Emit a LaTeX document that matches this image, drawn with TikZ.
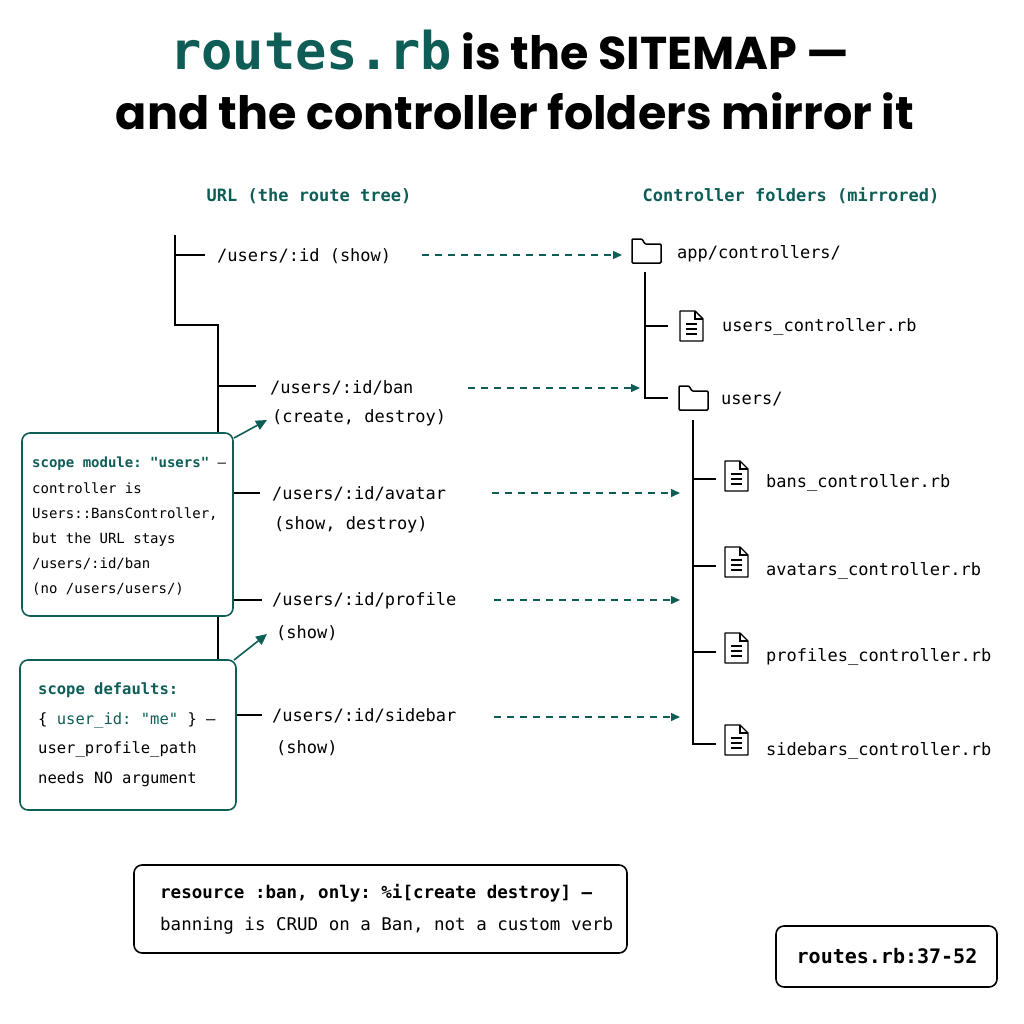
\documentclass[tikz,border=0pt]{standalone}
\usepackage{fontspec}
\setmainfont{Poppins}
\setmonofont{DejaVu Sans Mono}
\usetikzlibrary{arrows.meta}
\definecolor{teal1}{HTML}{0E5E57}
\newcommand\myfolder[2]{\draw[line width=1.5pt,rounded corners=1pt,shift={(#1,#2)}] (0,0)--(0,24)--(29,24)--(29,5)--(13,5)--(10,0)--cycle;}
\newcommand\myfile[2]{\begin{scope}[shift={(#1,#2)}]\draw[line width=1.4pt,line join=round] (0,0)--(15,0)--(23,8)--(23,30)--(0,30)--cycle; \draw[line width=1.4pt] (15,0)--(15,8)--(23,8); \draw[line width=1.2pt] (6,13)--(17,13) (6,18)--(17,18) (6,23)--(17,23);\end{scope}}
\tikzset{
  lbl/.style={anchor=west,inner sep=0pt,font=\fontsize{17}{20}\selectfont\ttfamily},
  hdr/.style={inner sep=0pt,font=\fontsize{17}{20}\selectfont\ttfamily\bfseries,text=teal1},
  tree/.style={line width=1.6pt,black},
  dasharr/.style={teal1,line width=1.4pt,dash pattern=on 7pt off 6pt,-{Triangle[length=9pt,width=8pt]}},
  notearr/.style={teal1,line width=1.6pt,-{Triangle[length=11pt,width=10pt]}},
  plainbox/.style={draw=black,line width=1.6pt,rounded corners=8pt,fill=white},
}
\begin{document}
\begin{tikzpicture}[x=1pt,y=-1pt]
\useasboundingbox (0,0) rectangle (1024,1024);
% title
\node[inner sep=0pt] (t1) at (510,50) {\fontsize{46}{50}\selectfont\bfseries{\ttfamily\fontsize{52}{56}\selectfont\color{teal1}routes.rb} is the SITEMAP —};
\node[inner sep=0pt] (t2) at (515,111) {\fontsize{46}{50}\selectfont\bfseries and the controller folders mirror it};
% headers
\node[hdr] (h1) at (309,196) {URL (the route tree)};
\node[hdr] (h2) at (791,196) {Controller folders (mirrored)};
% left tree
\draw[tree] (175,235)--(175,325)--(218,325)--(218,660);
\draw[tree] (175,255)--(205,255);
\draw[tree] (218,386)--(256,386);
\draw[tree] (218,493)--(260,493);
\draw[tree] (218,600)--(262,600);
\draw[tree] (218,715)--(262,715);
\node[lbl] (r0) at (217,256) {/users/:id (show)};
\node[lbl] (r1) at (270,388) {/users/:id/ban};
\node[lbl] (r1b) at (272,418) {(create, destroy)};
\node[lbl] (r2) at (272,494) {/users/:id/avatar};
\node[lbl] (r2b) at (274,525) {(show, destroy)};
\node[lbl] (r3) at (272,601) {/users/:id/profile};
\node[lbl] (r3b) at (276,633) {(show)};
\node[lbl] (r4) at (272,716) {/users/:id/sidebar};
\node[lbl] (r4b) at (276,748) {(show)};
% right tree
\myfolder{632}{239}
\node[lbl] (f0) at (677,254) {app/controllers/};
\draw[tree] (645,272)--(645,398)--(668,398);
\draw[tree] (645,326)--(668,326);
\myfile{680}{311}
\node[lbl] (f1) at (722,327) {users\_controller.rb};
\myfolder{679}{386}
\node[lbl] (f2) at (721,399) {users/};
\draw[tree] (693,420)--(693,744)--(716,744);
\draw[tree] (693,479)--(716,479);
\draw[tree] (693,566)--(716,566);
\draw[tree] (693,652)--(716,652);
\myfile{725}{461}
\node[lbl] (f3) at (766,483) {bans\_controller.rb};
\myfile{725}{547}
\node[lbl] (f4) at (766,571) {avatars\_controller.rb};
\myfile{725}{633}
\node[lbl] (f5) at (766,657) {profiles\_controller.rb};
\myfile{725}{725}
\node[lbl] (f6) at (766,751) {sidebars\_controller.rb};
\coordinate (a0) at (622,255); \coordinate (a1) at (640,388);
\coordinate (a2) at (680,493); \coordinate (a3) at (680,600); \coordinate (a4) at (680,717);
\draw[dasharr] (422,255)--(a0);
\draw[dasharr] (468,388)--(a1);
\draw[dasharr] (492,493)--(a2);
\draw[dasharr] (494,600)--(a3);
\draw[dasharr] (494,717)--(a4);
% note boxes
\draw[plainbox,draw=teal1] (22,433) rectangle (233,616);
\node[anchor=north west,inner sep=0pt,align=left,font=\fontsize{14}{25.2}\selectfont\ttfamily] (n1) at (32,457) {{\color{teal1}\bfseries scope module: "users"} —\\controller is\\Users::BansController,\\but the URL stays\\/users/:id/ban\\(no /users/users/)};
\coordinate (n1c) at (234,438); \coordinate (n1t) at (267,420);
\draw[notearr] (n1c)--(n1t);
\draw[plainbox,draw=teal1] (20,660) rectangle (236,810);
\node[anchor=north west,inner sep=0pt,align=left,font=\fontsize{15.5}{29.5}\selectfont\ttfamily] (n2) at (38,683) {{\color{teal1}\bfseries scope defaults:}\\\{ {\color{teal1}user\_id: "me"} \} —\\user\_profile\_path\\needs NO argument};
\coordinate (n2c) at (234,660); \coordinate (n2t) at (267,634);
\draw[notearr] (n2c)--(n2t);
% bottom boxes
\draw[plainbox] (134,865) rectangle (627,953);
\node[anchor=north west,inner sep=0pt,align=left,font=\fontsize{17.5}{32}\selectfont\ttfamily] (b1) at (160,884) {\bfseries resource :ban, only: \%i[create destroy] —\\banning is CRUD on a Ban, not a custom verb};
\draw[plainbox] (776,926) rectangle (997,987);
\node[inner sep=0pt,font=\fontsize{20}{24}\selectfont\ttfamily\bfseries] (b2) at (887,956) {routes.rb:37-52};
\end{tikzpicture}
\end{document}
